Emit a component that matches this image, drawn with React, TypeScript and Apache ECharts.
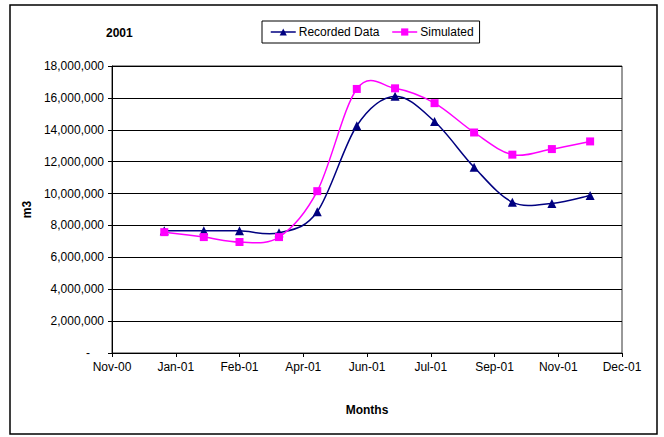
import { useEffect, useRef } from 'react';
import * as echarts from 'echarts';

// month-end dates of the readings
const monthEnds = [
  '2000-12-31', '2001-01-31', '2001-02-28', '2001-03-31', '2001-04-30', '2001-05-31',
  '2001-06-30', '2001-07-31', '2001-08-31', '2001-09-30', '2001-10-31', '2001-11-30'
];
const recorded = [
  7660000, 7660000, 7660000, 7540000, 8860000, 14250000,
  16100000, 14520000, 11650000, 9460000, 9380000, 9880000
];
const simulated = [
  7580000, 7270000, 6960000, 7270000, 10150000, 16560000,
  16600000, 15670000, 13830000, 12440000, 12790000, 13270000
];
// x axis runs from this day in steps of 50 days (Excel date axis)
const axisStart = '2000-11-20';
const axisStepDays = 50;
const axisSpanDays = 400;
const monthNames = ['Jan', 'Feb', 'Mar', 'Apr', 'May', 'Jun', 'Jul', 'Aug', 'Sep', 'Oct', 'Nov', 'Dec'];

const DAY = 86400000;
const origin = Date.parse(axisStart);
const toDays = (d: string) => Math.round((Date.parse(d) - origin) / DAY);
const dayLabel = (v: number) => {
  const d = new Date(origin + v * DAY);
  return monthNames[d.getUTCMonth()] + '-' + String(d.getUTCFullYear() % 100).padStart(2, '0');
};

const font = '"Liberation Sans", Arial, sans-serif';
const NAVY = '#000080';
const PINK = '#FF00FF';

const recordedData = monthEnds.map((d, i) => [toDays(d), recorded[i]]);
const simulatedData = monthEnds.map((d, i) => [toDays(d), simulated[i]]);

// Excel-style smoothed line (catmull-rom like), drawn in pixel space
const smoothCurve = (points: number[][], color: string) => (params: any, api: any) => {
  if (params.dataIndex !== 0) return null;
  const p = points.map((pt) => api.coord(pt));
  let d = `M${p[0][0]},${p[0][1]}`;
  for (let i = 0; i < p.length - 1; i++) {
    const p0 = p[Math.max(i - 1, 0)];
    const p1 = p[i];
    const p2 = p[i + 1];
    const p3 = p[Math.min(i + 2, p.length - 1)];
    const c1x = p1[0] + (p2[0] - p0[0]) / 6;
    const c1y = p1[1] + (p2[1] - p0[1]) / 6;
    const c2x = p2[0] - (p3[0] - p1[0]) / 6;
    const c2y = p2[1] - (p3[1] - p1[1]) / 6;
    d += ` C${c1x},${c1y} ${c2x},${c2y} ${p2[0]},${p2[1]}`;
  }
  return {
    type: 'path',
    shape: { pathData: d },
    style: { stroke: color, fill: 'none', lineWidth: 1.5 },
    silent: true
  };
};

const App: React.FC = () => {
  const chartRef = useRef<HTMLDivElement>(null);

  useEffect(() => {
    if (!chartRef.current) return;
    const chart = echarts.init(chartRef.current, null, { renderer: 'svg' });

    chart.setOption({
      animation: false,
      textStyle: { fontFamily: font, color: '#000' },
      title: {
        text: '2001',
        left: 101,
        top: 22,
        textStyle: { fontFamily: font, fontSize: 12, fontWeight: 'bold', color: '#000' }
      },
      legend: {
        left: 262,
        top: 21,
        padding: [5, 6, 5, 8],
        borderColor: '#000',
        borderWidth: 1,
        itemWidth: 25,
        itemHeight: 9,
        itemGap: 12,
        textStyle: { fontFamily: font, fontSize: 12, color: '#000', padding: [0, 0, 0, -2] },
        data: [
          { name: 'Recorded Data', lineStyle: { color: NAVY, width: 1.5, opacity: 1 } },
          { name: 'Simulated', lineStyle: { color: PINK, width: 1.5, opacity: 1 } }
        ]
      },
      graphic: [
        {
          type: 'rect',
          shape: { x: 10, y: 5, width: 647, height: 429 },
          style: { fill: 'none', stroke: '#000', lineWidth: 1.5 },
          silent: true
        }
      ],
      grid: {
        left: 112,
        right: 42,
        top: 66,
        bottom: 84,
        show: true,
        borderColor: '#333',
        borderWidth: 1
      },
      xAxis: {
        type: 'value',
        min: 0,
        max: axisSpanDays,
        interval: axisStepDays,
        name: 'Months',
        nameLocation: 'middle',
        nameGap: 51,
        nameTextStyle: { fontFamily: font, fontSize: 12, fontWeight: 'bold', color: '#000' },
        axisLine: { show: true, lineStyle: { color: '#000', width: 1 } },
        axisTick: { show: true, length: 4, lineStyle: { color: '#000' } },
        axisLabel: {
          fontFamily: font,
          fontSize: 12,
          color: '#000',
          margin: 8,
          formatter: (v: number) => dayLabel(v)
        },
        splitLine: { show: false }
      },
      yAxis: {
        type: 'value',
        min: 0,
        max: 18000000,
        interval: 2000000,
        name: 'm3',
        nameLocation: 'middle',
        nameGap: 78,
        nameTextStyle: { fontFamily: font, fontSize: 12, fontWeight: 'bold', color: '#000' },
        axisLine: { show: true, lineStyle: { color: '#000', width: 1 } },
        axisTick: { show: true, length: 4, lineStyle: { color: '#000' } },
        axisLabel: {
          fontFamily: font,
          fontSize: 12,
          color: '#000',
          margin: 8,
          formatter: (v: number) => (v === 0 ? '{z|-}' : v.toLocaleString('en-US')),
          rich: { z: { fontFamily: font, fontSize: 12, color: '#000', padding: [0, 14, 0, 0] } }
        },
        splitLine: { show: true, lineStyle: { color: '#000', width: 1 } }
      },
      series: [
        {
          type: 'custom',
          name: 'recorded-curve',
          renderItem: smoothCurve(recordedData, NAVY),
          data: recordedData,
          z: 1
        },
        {
          type: 'custom',
          name: 'simulated-curve',
          renderItem: smoothCurve(simulatedData, PINK),
          data: simulatedData,
          z: 1
        },
        {
          name: 'Recorded Data',
          type: 'line',
          symbol: 'triangle',
          symbolSize: 9,
          itemStyle: { color: NAVY },
          lineStyle: { color: NAVY, width: 1.5, opacity: 0 },
          data: recordedData,
          z: 3
        },
        {
          name: 'Simulated',
          type: 'line',
          symbol: 'rect',
          symbolSize: 8,
          itemStyle: { color: PINK },
          lineStyle: { color: PINK, width: 1.5, opacity: 0 },
          data: simulatedData,
          z: 3
        }
      ]
    });

    return () => {
      if (!chart.isDisposed()) chart.dispose();
    };
  }, []);

  return (
    <div
      ref={chartRef}
      style={{ position: 'fixed', left: 0, top: 0, width: '664px', height: '437px', background: '#fff' }}
    />
  );
};

export default App;
